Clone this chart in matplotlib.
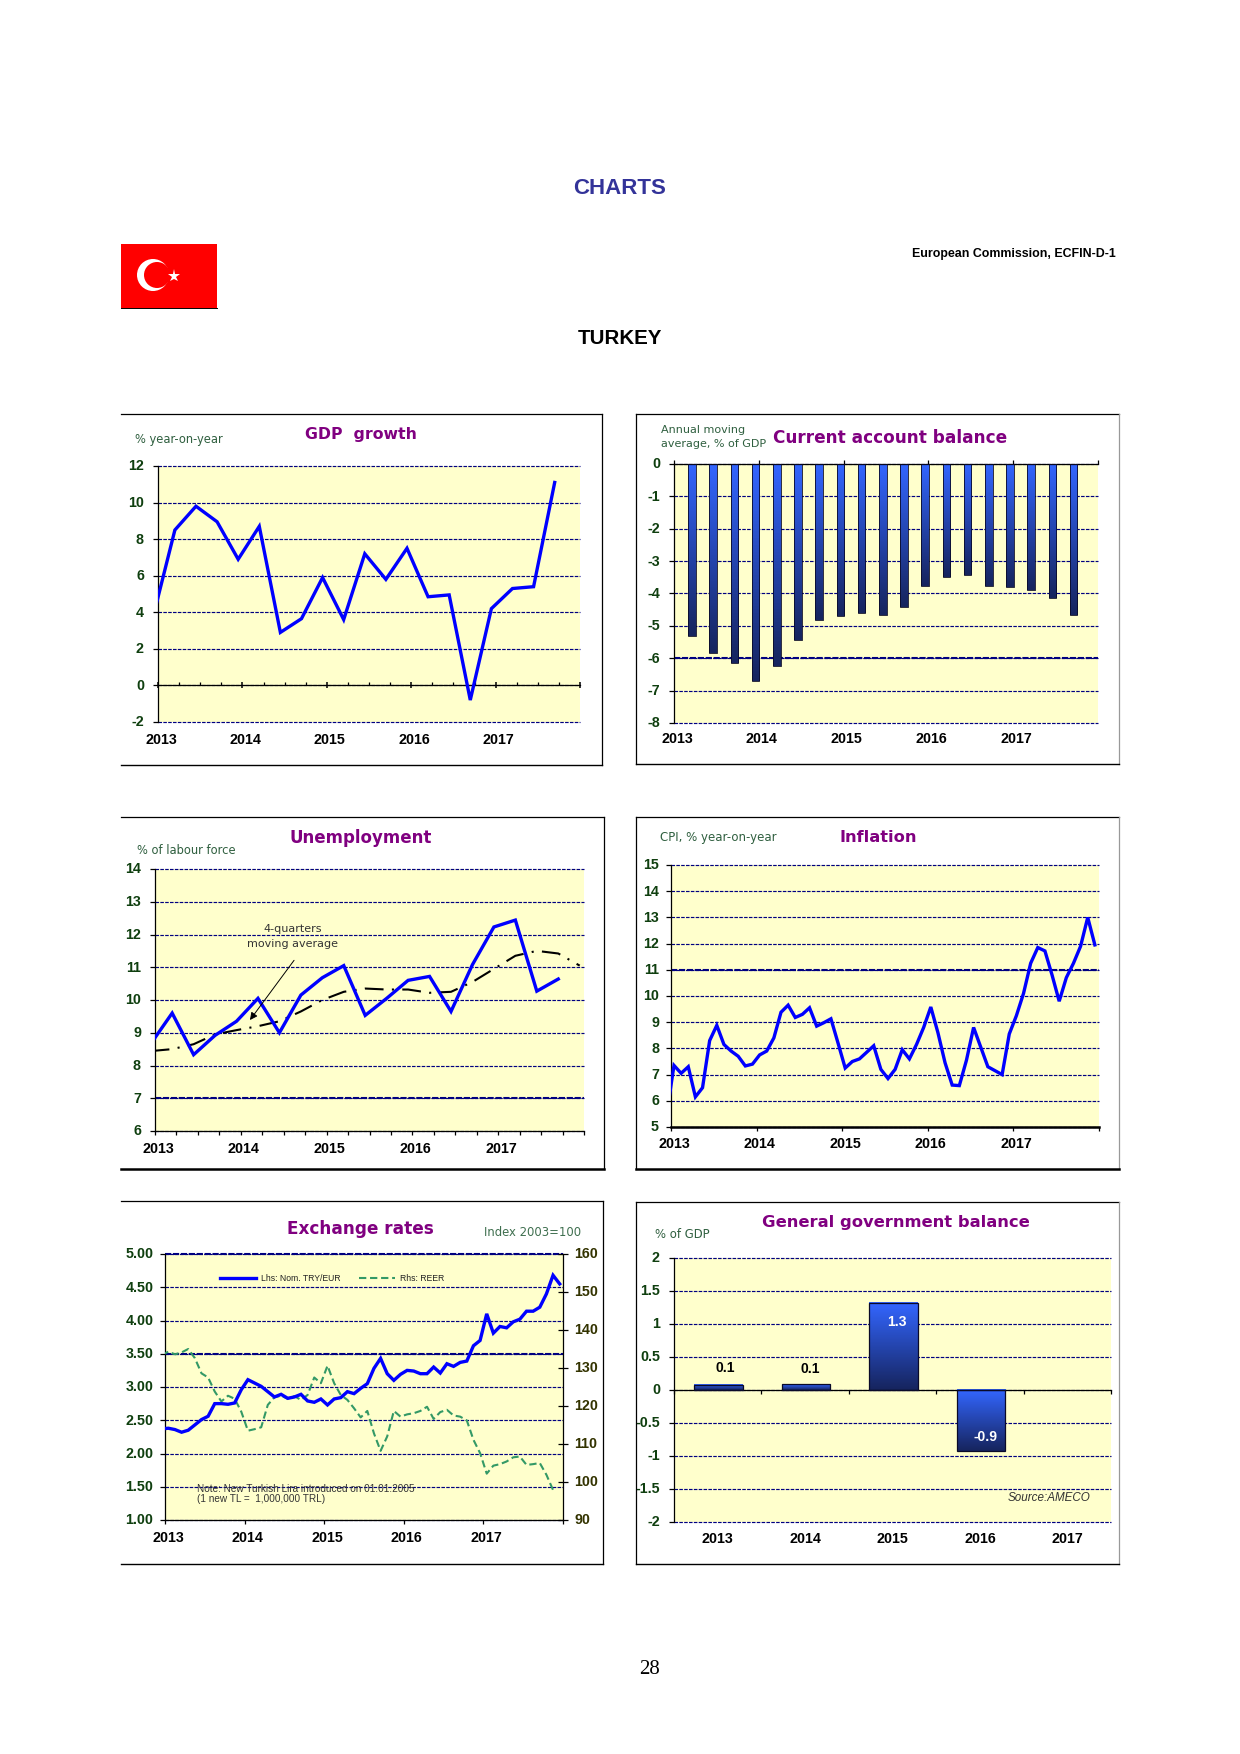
import numpy as np
import matplotlib
matplotlib.use("Agg")
import matplotlib.pyplot as plt
from matplotlib.lines import Line2D
from matplotlib.patches import Rectangle, Circle
from matplotlib.transforms import ScaledTranslation

plt.rcParams['font.family'] = ['Liberation Sans', 'DejaVu Sans']
plt.rcParams['axes.unicode_minus'] = False

W, H = 1240, 1754

years = ["2013", "2014", "2015", "2016", "2017"]

gdp = [3.9, 8.5, 9.8, 8.95, 6.9, 8.7, 2.9, 3.65, 5.9, 3.6, 7.2, 5.8, 7.5, 4.85, 4.95, -0.8, 4.2, 5.3, 5.4, 11.1]

current_account = [-5.32, -5.85, -6.15, -6.71, -6.25, -5.45, -4.82, -4.71, -4.61, -4.67,
                   -4.43, -3.77, -3.5, -3.43, -3.77, -3.81, -3.9, -4.15, -4.67]

unemployment = [8.66, 9.6, 8.33, 8.92, 9.35, 10.05, 9.0, 10.15, 10.68, 11.05,
                9.53, 10.05, 10.6, 10.72, 9.65, 11.08, 12.23, 12.44, 10.27, 10.64]
unemployment_ma = [8.44, 8.5, 8.65, 8.95, 9.08, 9.2, 9.35, 9.65, 10.0, 10.25,
                   10.35, 10.32, 10.32, 10.22, 10.25, 10.55, 10.95, 11.35, 11.5, 11.42, 11.05]

inflation = [5.55, 7.35, 7.05, 7.3, 6.15, 6.5, 8.3, 8.88, 8.15, 7.9, 7.7, 7.33, 7.4, 7.75, 7.9, 8.4,
             9.38, 9.65, 9.18, 9.3, 9.55, 8.85, 8.98, 9.13, 8.2, 7.25, 7.5, 7.6, 7.85, 8.1, 7.2, 6.85,
             7.2, 7.95, 7.6, 8.15, 8.8, 9.58, 8.6, 7.45, 6.6, 6.58, 7.55, 8.8, 8.05, 7.3, 7.15, 7.0,
             8.55, 9.25, 10.1, 11.25, 11.85, 11.72, 10.8, 9.8, 10.7, 11.25, 11.9, 13.0, 11.95]

try_eur = [2.37, 2.38, 2.36, 2.32, 2.35, 2.43, 2.51, 2.56, 2.75, 2.75, 2.74, 2.76, 2.96, 3.11, 3.06, 3.01,
           2.93, 2.85, 2.89, 2.83, 2.85, 2.89, 2.79, 2.77, 2.82, 2.73, 2.82, 2.84, 2.93, 2.9, 2.98, 3.05,
           3.28, 3.43, 3.2, 3.1, 3.19, 3.25, 3.24, 3.2, 3.2, 3.3, 3.21, 3.35, 3.31, 3.37, 3.39, 3.62,
           3.7, 4.1, 3.81, 3.91, 3.89, 3.98, 4.02, 4.14, 4.14, 4.2, 4.4, 4.68, 4.55]
reer = [133.4, 134.3, 133.6, 134.1, 135.0, 132.6, 128.6, 127.5, 123.8, 121.2, 122.7, 121.9, 118.5, 113.5,
        113.9, 114.4, 120.3, 122.3, 122.7, 121.9, 122.6, 121.6, 122.9, 127.5, 126.0, 130.6, 126.0, 122.9,
        121.6, 119.4, 117.0, 118.7, 112.8, 108.2, 112.0, 118.7, 117.2, 117.8, 118.1, 118.7, 119.8, 116.6,
        118.4, 119.0, 117.5, 117.2, 116.2, 111.1, 107.6, 102.2, 104.3, 104.7, 105.4, 106.5, 106.7, 104.5,
        104.7, 105.0, 101.9, 97.9]

gov_balance = [0.08, 0.09, 1.32, -0.93, np.nan]
gov_labels = ["0.1", "0.1", "1.3", "-0.9", ""]

YELLOW = "#FFFFCC"
NAVY = "#000080"
BLUE = "#0000FF"
GREEN = "#339966"
PURPLE = "#800080"
DARK = "#0F3F0F"
SUB = "#2F5F3F"
TICKSIZE = 10.3

fig = plt.figure(figsize=(W / 100, H / 100), dpi=100, facecolor="white")

# page overlay in pixel coordinates
page = fig.add_axes([0, 0, 1, 1], zorder=10)
page.set_xlim(0, W)
page.set_ylim(H, 0)
page.axis("off")


def box(x0, y0, x1, y1):
    return fig.add_axes([x0 / W, 1 - y1 / H, (x1 - x0) / W, (y1 - y0) / H])


def base(ax, ylim, yticks, ylabels=None, heavy=()):
    ax.set_facecolor(YELLOW)
    ax.set_ylim(*ylim)
    ax.set_yticks(yticks)
    if ylabels is not None:
        ax.set_yticklabels(ylabels)
    ax.spines["top"].set_visible(False)
    ax.spines["right"].set_visible(False)
    ax.spines["left"].set_linewidth(0.9)
    ax.spines["bottom"].set_linewidth(0.9)
    ax.set_axisbelow(True)
    ax.grid(axis="y", color=NAVY, lw=0.85, ls=(0, (3, 1.1)))
    for g in ax.yaxis.get_gridlines():
        g.set_clip_on(False)
    for v in heavy:
        ax.axhline(v, color=NAVY, lw=1.5, ls=(0, (3, 0.8)), zorder=0.9, clip_on=False)
    ax.tick_params(axis="y", length=3.6, width=0.9, pad=6.5, labelsize=TICKSIZE, labelcolor=DARK)
    for t in ax.get_yticklabels():
        t.set_fontweight("bold")


def year_axis(ax, n, per_year):
    ax.set_xlim(0, n)
    ax.set_xticks(np.arange(0, n + 1, per_year))
    ax.set_xticklabels(years + [""], fontsize=TICKSIZE, fontweight="bold", color="black")


# has to run after tick_params, which resets the label transforms
def nudge(ax, dx=2.2, dy=0.8):
    off = ScaledTranslation(dx / 72, 0, fig.dpi_scale_trans)
    for t in ax.get_xticklabels():
        t.set_transform(t.get_transform() + off)
    off = ScaledTranslation(0, dy / 72, fig.dpi_scale_trans)
    for t in ax.get_yticklabels():
        t.set_transform(t.get_transform() + off)


def gradient_bars(ax, rects):
    grad = np.linspace(0, 1, 64).reshape(-1, 1)
    cols = np.zeros((64, 1, 3))
    top = np.array([0x33, 0x66, 0xFF]) / 255
    bot = np.array([0x16, 0x24, 0x5E]) / 255
    cols[:, 0, :] = top + (bot - top) * grad
    for r in rects:
        x0, x1 = r.get_x(), r.get_x() + r.get_width()
        y0, y1 = sorted([r.get_y(), r.get_y() + r.get_height()])
        ax.imshow(cols, extent=(x0, x1, y0, y1), aspect="auto", origin="upper", zorder=2)


def label(x, y, s, ha="left", size=8.3, color=SUB):
    page.text(x, y, s, ha=ha, va="center", fontsize=size, color=color, family="DejaVu Sans")


def title(x, y, s, size=11.8):
    page.text(x, y, s, ha="center", va="center", fontsize=size, color=PURPLE, fontweight="bold", family="DejaVu Sans")


# frames
def frame(x0, y0, x1, y1, left=True, right="black", bottom=1.0):
    kw = dict(transform=page.transData, clip_on=False)
    page.add_line(Line2D([x0, x1], [y0, y0], color="black", lw=0.9, **kw))
    page.add_line(Line2D([x1, x1], [y0, y1], color=right, lw=0.9, **kw))
    page.add_line(Line2D([x0, x1], [y1, y1], color="black", lw=bottom, **kw))
    if left:
        page.add_line(Line2D([x0, x0], [y0, y1], color="black", lw=0.9, **kw))


frame(121, 414, 602, 765, left=False)
frame(636, 414, 1119, 764, right="#999999")
frame(121, 817, 604, 1169, left=False, bottom=1.8)
frame(636, 817, 1119, 1169, right="#999999", bottom=1.8)
frame(121, 1201, 603, 1564, left=False)
frame(636, 1202, 1119, 1564, right="#999999")

# header
page.text(620, 189, "CHARTS", ha="center", va="center", fontsize=16, fontweight="bold", color="#333399")
page.text(1116, 254, "European Commission, ECFIN-D-1", ha="right", va="center", fontsize=8.9, fontweight="bold", color="black")
page.text(620, 338, "TURKEY", ha="center", va="center", fontsize=14.8, fontweight="bold", color="black")
page.text(650, 1670, "28", ha="center", va="center", fontsize=15, family="Liberation Serif", color="black")

page.add_patch(Rectangle((121, 244), 96, 64, facecolor="#FF0000", edgecolor="none"))
page.add_line(Line2D([121, 217], [308, 308], color="black", lw=0.7))
page.add_patch(Circle((153, 275), 16, facecolor="white", edgecolor="none"))
page.add_patch(Circle((157, 275), 13, facecolor="#FF0000", edgecolor="none"))
page.plot([174], [276], marker="*", color="white", ms=9.5, mew=0)

# GDP growth
ax = box(158, 466, 580, 722)
base(ax, (-2, 12), np.arange(-2, 13, 2))
ax.spines["bottom"].set_position(("data", 0))
year_axis(ax, 20, 4)
ax.set_xticks(np.arange(0, 21), minor=True)
ax.tick_params(axis="x", which="major", direction="inout", length=5, width=1.1, pad=31.5)
ax.tick_params(axis="x", which="minor", direction="in", length=2, width=0.9)
ax.plot(np.arange(len(gdp)) - 0.2, gdp, color=BLUE, lw=2.4, solid_joinstyle="miter", zorder=3)
nudge(ax)
title(361, 435, "GDP  growth", size=11.3)
label(135, 440, "% year-on-year")

# Current account balance
ax = box(674, 464, 1098, 723)
base(ax, (-8, 0), np.arange(-8, 1), heavy=[-6])
ax.spines["bottom"].set_visible(False)
ax.spines["top"].set_visible(True)
ax.spines["top"].set_linewidth(0.9)
year_axis(ax, 20, 4)
ax.tick_params(axis="x", top=True, bottom=False, labelbottom=True, length=2.9, width=0.9, pad=3.8)
ca_bars = ax.bar(np.arange(len(current_account)) + 0.85, current_account, width=0.36,
                 facecolor="none", edgecolor="#0A0A28", lw=0.6, zorder=3)
gradient_bars(ax, ca_bars)
ax.set_xlim(0, 20)
ax.set_ylim(-8, 0)
nudge(ax)
title(890, 438, "Current account balance", size=12.2)
label(661, 430, "Annual moving", size=8)
label(661, 444, "average, % of GDP", size=8)

# Unemployment
ax = box(155, 869, 584, 1131)
base(ax, (6, 14), np.arange(6, 15), heavy=[7])
year_axis(ax, 20, 4)
ax.set_xticks(np.arange(0, 21), minor=True)
ax.tick_params(axis="x", which="both", length=3.2, width=0.9, pad=5)
ax.plot(np.arange(len(unemployment_ma)) - 0.2, unemployment_ma,
        color="black", lw=1.5, ls=(0, (9, 4, 1, 4)), zorder=3)
ax.plot(np.arange(len(unemployment)) - 0.2, unemployment,
        color=BLUE, lw=2.4, solid_joinstyle="miter", zorder=4)
ax.annotate("", xy=(4.35, 9.32), xytext=(6.56, 11.28), zorder=5,
            arrowprops=dict(arrowstyle="-|>", color="black", lw=0.7, mutation_scale=11))
ax.text(6.42, 12.18, "4-quarters", ha="center", va="center", fontsize=8, color="#333333", family="DejaVu Sans", zorder=5)
ax.text(6.39, 11.7, "moving average", ha="center", va="center", fontsize=8, color="#333333", family="DejaVu Sans", zorder=5)
nudge(ax)
title(361, 838, "Unemployment", size=12)
label(137, 851, "% of labour force")

# Inflation
ax = box(671, 865, 1099, 1127)
base(ax, (5, 15), np.arange(5, 16), heavy=[11])
ax.spines["bottom"].set_linewidth(1.8)
year_axis(ax, 60, 12)
ax.tick_params(axis="x", length=2.9, width=0.9, pad=4)
ax.tick_params(axis="y", pad=5)
ax.plot(np.arange(len(inflation)) - 0.58, inflation, color=BLUE, lw=2.4, solid_joinstyle="miter", zorder=3)
nudge(ax)
title(878, 838, "Inflation", size=11.7)
label(660, 838, "CPI, % year-on-year", size=8.5)

# Exchange rates: grid axes below, REER above it, exchange rate on top
ax = box(165, 1254, 563, 1520)
ax.set_zorder(1)
ax2 = fig.add_axes(ax.get_position(), zorder=2)
ax3 = fig.add_axes(ax.get_position(), zorder=3)
base(ax, (1, 5), np.arange(1, 5.5, 0.5), ["%.2f" % v for v in np.arange(1, 5.5, 0.5)], heavy=[5, 3.5])
year_axis(ax, 60, 12)
ax.tick_params(axis="x", length=3.2, width=0.9, pad=5)
ax.tick_params(axis="y", pad=4.8)
ax2.patch.set_visible(False)
ax2.set_xlim(0, 60)
ax2.set_xticks([])
ax2.set_ylim(90, 160)
ax2.set_yticks(np.arange(90, 161, 10))
ax2.yaxis.tick_right()
ax2.tick_params(axis="y", direction="inout", length=7.2, width=0.9, pad=4.5, labelsize=TICKSIZE, labelcolor="#333300")
for t in ax2.get_yticklabels():
    t.set_fontweight("bold")
for s in ["top", "left", "bottom"]:
    ax2.spines[s].set_visible(False)
ax2.spines["right"].set_linewidth(0.9)
l2, = ax2.plot(np.arange(len(reer)) - 0.5, reer, color=GREEN, lw=1.5, ls=(0, (3.5, 1.8)), zorder=3, label="Rhs: REER")
ax3.set_xlim(0, 60)
ax3.set_ylim(1, 5)
ax3.axis("off")
l1, = ax3.plot(np.arange(len(try_eur)) - 0.5, try_eur, color=BLUE, lw=2.4, solid_joinstyle="miter", zorder=4, label="Lhs: Nom. TRY/EUR")
ax3.legend(handles=[l1, l2], ncol=2, loc="center left", bbox_to_anchor=(0.139, 0.907), frameon=False, fontsize=6.2,
           handlelength=4.2, handletextpad=0.58, columnspacing=2.1, borderaxespad=0, borderpad=0, labelcolor="#222222")
nudge(ax)
nudge(ax2, dx=0)
title(360, 1229, "Exchange rates", size=12.2)
label(581, 1233, "Index 2003=100", ha="right", size=8.4, color="#3F6F4F")
page.text(197, 1489, "Note: New Turkish Lira introduced on 01.01.2005", va="center", fontsize=7.2, color="#333333")
page.text(197, 1499, "(1 new TL =  1,000,000 TRL)", va="center", fontsize=7.2, color="#333333")

# General government balance
ax = box(674, 1258, 1111, 1522)
base(ax, (-2, 2), np.arange(-2, 2.5, 0.5), ["-2", "-1.5", "-1", "-0.5", "0", "0.5", "1", "1.5", "2"])
ax.spines["bottom"].set_position(("data", 0))
ax.set_xlim(-0.5, 4.5)
ax.set_xticks(np.arange(-0.5, 5, 1))
ax.set_xticklabels([])
ax.set_xticks(np.arange(5), minor=True)
ax.set_xticklabels(years, minor=True, fontsize=TICKSIZE, fontweight="bold", color="black")
ax.tick_params(axis="x", which="major", length=2.9, width=0.9)
ax.tick_params(axis="x", which="minor", length=0, pad=102.5)
gov_bars = ax.bar(np.arange(5) + 0.01, gov_balance, width=0.555, facecolor="none", edgecolor="#0A0A28", lw=0.9, zorder=3)
gradient_bars(ax, [r for r in gov_bars if np.isfinite(r.get_height())])
ax.set_xlim(-0.5, 4.5)
ax.set_ylim(-2, 2)
label_offset = [(5, 12), (3, 11), (2.8, -14), (3.2, 10), (0, 0)]
for i, r in enumerate(gov_bars):
    if gov_labels[i]:
        ax.annotate(gov_labels[i], (i + 0.01, gov_balance[i]), xytext=label_offset[i], textcoords="offset points",
                    ha="center", va="center", fontsize=10, fontweight="bold", zorder=5,
                    color="black" if i < 2 else "white")
nudge(ax, dx=0)
title(896, 1223, "General government balance")
label(655, 1235, "% of GDP", size=8.4)
page.text(1090, 1498, "Source:AMECO", ha="right", va="center", fontsize=8.4, style="italic", color="#333333")

fig.savefig("out.png", dpi=100)
